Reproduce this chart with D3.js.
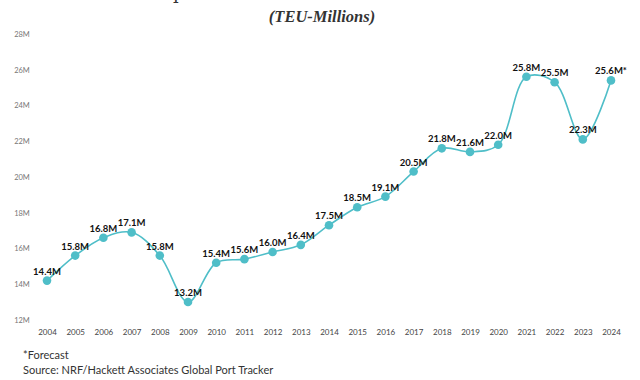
<!DOCTYPE html>
<head>
    <meta charset="utf-8">
    <script src="https://d3js.org/d3.v7.min.js"></script>
    <style>
        body { margin: 0; background: #fff; }
        svg { display: block; }
    </style>
</head>
<body>
    <div id="chart"></div>
    <script>
        // values
        var years = ["2004", "2005", "2006", "2007", "2008", "2009", "2010", "2011", "2012", "2013", "2014",
            "2015", "2016", "2017", "2018", "2019", "2020", "2021", "2022", "2023", "2024"]
        var teu = [14.4, 15.8, 16.8, 17.1, 15.8, 13.2, 15.4, 15.6, 16.0, 16.4, 17.5,
            18.5, 19.1, 20.5, 21.8, 21.6, 22.0, 25.8, 25.5, 22.3, 25.6]
        var forecastYears = ["2024"]
        var yTicks = [12, 14, 16, 18, 20, 22, 24, 26, 28]

        var width = 640, height = 380
        var teal = "#4fbec8"

        var svg = d3.select("#chart").append("svg")
            .attr("width", width)
            .attr("height", height)

        var x = d3.scalePoint()
            .domain(years)
            .range([47, 611])

        var y = d3.scaleLinear()
            .domain([12, 28])
            .range([323.5, 37.5])

        var data = years.map(function(d, i) {
            return { year: d, value: teu[i] }
        })

        // title (cut off at the top in the reference) and subtitle
        svg.append("text")
            .attr("x", 322)
            .attr("y", -1)
            .attr("text-anchor", "middle")
            .attr("font-family", "'DejaVu Serif', serif")
            .attr("font-size", 18)
            .attr("fill", "#333")
            .text("Imports at U.S. Retail Container Ports")

        svg.append("text")
            .attr("x", 322)
            .attr("y", 22)
            .attr("text-anchor", "middle")
            .attr("font-family", "'Liberation Serif', serif")
            .attr("font-style", "italic")
            .attr("font-weight", "bold")
            .attr("font-size", 16.5)
            .attr("fill", "#333")
            .text("(TEU-Millions)")

        // y axis labels, no line
        var yAxis = svg.append("g")
            .attr("transform", "translate(28,-3.5)")
            .call(d3.axisLeft(y).tickValues(yTicks).tickSize(0).tickFormat(function(d) { return d + "M" }))
        yAxis.select(".domain").remove()
        yAxis.selectAll("text")
            .attr("text-anchor", "middle")
            .attr("x", -6)
            .attr("font-family", "Lato, sans-serif")
            .attr("font-size", 7.5)
            .attr("fill", "#777")

        // x axis labels, no line
        var xAxis = svg.append("g")
            .attr("transform", "translate(0,327)")
            .call(d3.axisBottom(x).tickSize(0))
        xAxis.select(".domain").remove()
        xAxis.selectAll("text")
            .attr("y", 2)
            .attr("dy", "0.71em")
            .attr("font-family", "Lato, sans-serif")
            .attr("font-size", 8)
            .attr("fill", "#444")

        // line
        var line = d3.line()
            .x(function(d) { return x(d.year) })
            .y(function(d) { return y(d.value) })
            .curve(d3.curveCatmullRom.alpha(0.5))

        svg.append("path")
            .datum(data)
            .attr("d", line)
            .attr("fill", "none")
            .attr("stroke", teal)
            .attr("stroke-width", 1.6)

        svg.append("g").selectAll("circle")
            .data(data)
            .enter().append("circle")
            .attr("cx", function(d) { return x(d.year) })
            .attr("cy", function(d) { return y(d.value) })
            .attr("r", 4.3)
            .attr("fill", teal)

        svg.append("g").selectAll("text")
            .data(data)
            .enter().append("text")
            .attr("x", function(d) { return x(d.year) })
            .attr("y", function(d) { return y(d.value) - 6 })
            .attr("text-anchor", "middle")
            .attr("font-family", "Lato, sans-serif")
            .attr("font-weight", "bold")
            .attr("font-size", 9.5)
            .attr("fill", "#111")
            .text(function(d) {
                return d.value.toFixed(1) + "M" + (forecastYears.indexOf(d.year) >= 0 ? "*" : "")
            })

        // footnotes
        svg.append("text")
            .attr("x", 23)
            .attr("y", 359)
            .attr("font-family", "Lato, sans-serif")
            .attr("font-size", 11)
            .attr("fill", "#333")
            .text("*Forecast")

        svg.append("text")
            .attr("x", 23)
            .attr("y", 374)
            .attr("font-family", "Lato, sans-serif")
            .attr("font-size", 11)
            .attr("fill", "#333")
            .text("Source: NRF/Hackett Associates Global Port Tracker")
    </script>
</body>
</html>
